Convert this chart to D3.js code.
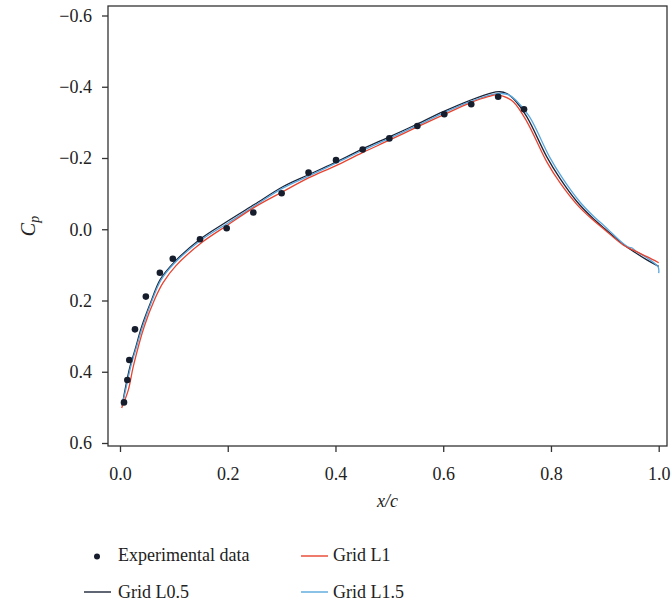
<!DOCTYPE html>
<html>
<head>
<meta charset="utf-8">
<script src="https://cdn.jsdelivr.net/npm/d3@7/dist/d3.min.js"></script>
<style>
    body { margin: 0; background: #fff; }
    svg { display: block; }
    .tick line { stroke: #333; stroke-width: 1.3; }
</style>
</head>
<body>
<div id="chart"></div>
<script>
var expX = [0.0074, 0.0136, 0.0173, 0.0278, 0.048, 0.074, 0.098, 0.1485, 0.198, 0.2475,
            0.300, 0.350, 0.401, 0.4505, 0.500, 0.552, 0.602, 0.652, 0.702, 0.750];
var expCp = [0.486, 0.423, 0.367, 0.281, 0.189, 0.122, 0.083, 0.028, -0.003, -0.047,
             -0.101, -0.159, -0.194, -0.224, -0.255, -0.290, -0.323, -0.351, -0.372, -0.337];

var l05X = [0.004, 0.0093, 0.0186, 0.0278, 0.0403, 0.0588, 0.0743, 0.099, 0.1485, 0.198,
            0.25, 0.303, 0.35, 0.396, 0.45, 0.501, 0.55, 0.6, 0.65, 0.69, 0.705, 0.718,
            0.73, 0.755, 0.792, 0.817, 0.848, 0.875, 0.897, 0.934, 0.959, 0.978, 1.0];
var l05Cp = [0.496, 0.451, 0.385, 0.339, 0.273, 0.198, 0.142, 0.095, 0.028, -0.021,
             -0.070, -0.120, -0.153, -0.185, -0.225, -0.260, -0.294, -0.330, -0.362, -0.383, -0.386, -0.381,
             -0.367, -0.316, -0.204, -0.142, -0.078, -0.035, -0.005, 0.042, 0.068, 0.086, 0.104];

var l1X = [0.003, 0.0155, 0.0247, 0.045, 0.064, 0.08, 0.104, 0.153, 0.2, 0.25,
           0.303, 0.35, 0.4, 0.45, 0.5, 0.55, 0.6, 0.65, 0.685, 0.699, 0.712,
           0.73, 0.755, 0.792, 0.817, 0.848, 0.875, 0.897, 0.934, 0.959, 0.978, 1.0];
var l1Cp = [0.502, 0.451, 0.385, 0.273, 0.198, 0.150, 0.102, 0.036, -0.012, -0.062,
            -0.106, -0.144, -0.178, -0.215, -0.250, -0.286, -0.321, -0.355, -0.373, -0.377, -0.373,
            -0.358, -0.303, -0.190, -0.130, -0.070, -0.030, -0.002, 0.044, 0.063, 0.077, 0.094];

var l15X = [0.004, 0.0105, 0.02, 0.029, 0.042, 0.06, 0.076, 0.1, 0.15, 0.2,
            0.25, 0.303, 0.35, 0.396, 0.45, 0.501, 0.55, 0.6, 0.65, 0.69, 0.708, 0.722,
            0.735, 0.76, 0.797, 0.822, 0.853, 0.88, 0.9, 0.934, 0.945, 0.95, 0.958, 0.978, 0.999, 1.0];
var l15Cp = [0.494, 0.451, 0.385, 0.339, 0.273, 0.198, 0.143, 0.097, 0.031, -0.017,
             -0.066, -0.116, -0.149, -0.182, -0.221, -0.256, -0.290, -0.326, -0.358, -0.378, -0.381, -0.377,
             -0.362, -0.316, -0.204, -0.142, -0.078, -0.035, -0.008, 0.040, 0.051, 0.052, 0.062, 0.080, 0.106, 0.123];

var xTicks = [0, 0.2, 0.4, 0.6, 0.8, 1.0];
var yTicks = [-0.6, -0.4, -0.2, 0.0, 0.2, 0.4, 0.6];

var seriesList = [
    { name: "Grid L0.5", xs: l05X, ys: l05Cp, color: "#1c2437" },
    { name: "Grid L1.5", xs: l15X, ys: l15Cp, color: "#58a6dd" },
    { name: "Grid L1", xs: l1X, ys: l1Cp, color: "#e8432f" }
];

var serif = "'Liberation Serif', 'DejaVu Serif', serif";
var width = 672, height = 606;
var frame = { left: 108, right: 667, top: 6, bottom: 446 };

var svg = d3.select("#chart").append("svg")
    .attr("width", width)
    .attr("height", height)
    .attr("font-family", serif);

var x = d3.scaleLinear().domain([0, 1]).range([120, 658.7]);
var y = d3.scaleLinear().domain([-0.6, 0.6]).range([15.5, 443]);

function fmt(d) {
    return d3.format(".1f")(d).replace("-", "\u2212");
}

function styleAxis(g) {
    g.attr("font-family", serif).attr("font-size", 18);
    g.select(".domain").remove();
    g.selectAll(".tick text").attr("fill", "#222");
}

svg.append("g")
    .attr("transform", "translate(0," + frame.bottom + ")")
    .call(d3.axisBottom(x).tickValues(xTicks).tickFormat(fmt).tickSize(6).tickPadding(15))
    .call(styleAxis);

svg.append("g")
    .attr("transform", "translate(" + frame.left + ",0)")
    .call(d3.axisLeft(y).tickValues(yTicks).tickFormat(fmt).tickSize(6).tickPadding(10))
    .call(styleAxis);

svg.append("rect")
    .attr("x", frame.left)
    .attr("y", frame.top)
    .attr("width", frame.right - frame.left)
    .attr("height", frame.bottom - frame.top)
    .attr("fill", "none")
    .attr("stroke", "#333")
    .attr("stroke-width", 1.3);

var line = d3.line()
    .x(function (d) { return x(d[0]); })
    .y(function (d) { return y(d[1]); })
    .curve(d3.curveCatmullRom.alpha(0.5));

seriesList.forEach(function (s) {
    svg.append("path")
        .datum(d3.zip(s.xs, s.ys))
        .attr("d", line)
        .attr("fill", "none")
        .attr("stroke", s.color)
        .attr("stroke-width", 1.3);
});

svg.append("g").selectAll("circle")
    .data(d3.zip(expX, expCp))
    .enter().append("circle")
    .attr("cx", function (d) { return x(d[0]); })
    .attr("cy", function (d) { return y(d[1]); })
    .attr("r", 3.3)
    .attr("fill", "#161d2d");

svg.append("text")
    .attr("x", (frame.left + frame.right) / 2)
    .attr("y", 507)
    .attr("text-anchor", "middle")
    .attr("font-size", 18)
    .attr("font-style", "italic")
    .attr("fill", "#222")
    .text("x/c");

var cpLabel = svg.append("text")
    .attr("transform", "translate(35,226) rotate(-90)")
    .attr("text-anchor", "middle")
    .attr("font-size", 20)
    .attr("font-style", "italic")
    .attr("fill", "#222");
cpLabel.append("tspan").text("C");
cpLabel.append("tspan").attr("font-size", 14).attr("dy", 4).text("p");

// legend
var legend = svg.append("g").attr("font-size", 18).attr("fill", "#222");

legend.append("circle").attr("cx", 97).attr("cy", 556.5).attr("r", 3).attr("fill", "#161d2d");
legend.append("text").attr("x", 118).attr("y", 560.5).text("Experimental data");

var legendLines = [
    { s: seriesList[2], x: 301, y: 556, tx: 333, ty: 560.5 },
    { s: seriesList[0], x: 84, y: 592, tx: 118, ty: 598 },
    { s: seriesList[1], x: 301, y: 592, tx: 333, ty: 598 }
];
legendLines.forEach(function (e) {
    legend.append("line")
        .attr("x1", e.x).attr("x2", e.x + 27)
        .attr("y1", e.y).attr("y2", e.y)
        .attr("stroke", e.s.color)
        .attr("stroke-width", 1.4);
    legend.append("text").attr("x", e.tx).attr("y", e.ty).text(e.s.name);
});
</script>
</body>
</html>
